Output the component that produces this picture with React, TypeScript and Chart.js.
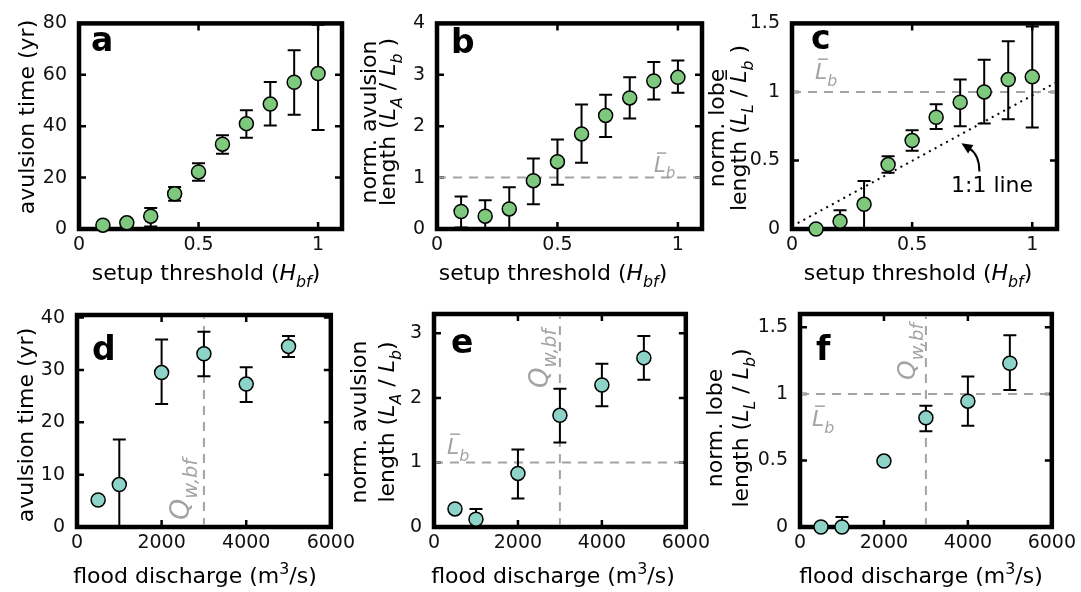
import React, { useEffect, useRef } from "react";
import { Chart, registerables } from "chart.js";
Chart.register(...registerables);

const FONT = '"DejaVu Sans", "Liberation Sans", sans-serif';
const GREEN = "#7fc97f";
const TEAL = "#8dd3c7";
const GREY = "#a3a3a3";

// ---------- data: setup-threshold experiments (top row)
const setupThreshold = [0.1, 0.2, 0.3, 0.4, 0.5, 0.6, 0.7, 0.8, 0.9, 1.0];
const avulsionTime = [1.5, 2.4, 5.0, 13.7, 22.2, 33.0, 41.0, 48.6, 57.1, 60.5];
const avulsionTimeLow = [null, null, 1.0, 11.0, 18.8, 29.3, 35.5, 40.3, 44.5, 38.5];
const avulsionTimeHigh = [null, null, 8.2, 16.3, 25.6, 36.5, 46.2, 57.2, 69.6, 79.5];
const avulsionLength = [0.34, 0.25, 0.39, 0.94, 1.31, 1.85, 2.21, 2.55, 2.88, 2.95];
const avulsionLengthLow = [0.03, 0, 0, 0.48, 0.86, 1.29, 1.79, 2.15, 2.52, 2.65];
const avulsionLengthHigh = [0.63, 0.56, 0.81, 1.37, 1.74, 2.42, 2.61, 2.95, 3.25, 3.28];
const lobeLength = [0.0, 0.056, 0.18, 0.47, 0.645, 0.815, 0.925, 1.0, 1.09, 1.11];
const lobeLengthLow = [null, 0, 0, 0.41, 0.57, 0.73, 0.75, 0.77, 0.8, 0.74];
const lobeLengthHigh = [null, 0.136, 0.35, 0.53, 0.72, 0.91, 1.09, 1.235, 1.37, 1.477];

// ---------- data: flood-discharge experiments (bottom row)
const floodDischarge = [500, 1000, 2000, 3000, 4000, 5000];
const qAvulsionTime = [5.15, 8.1, 29.5, 33.1, 27.3, 34.5];
const qAvulsionTimeLow = [null, 0, 23.5, 28.8, 23.9, 32.5];
const qAvulsionTimeHigh = [null, 16.7, 35.8, 37.3, 30.5, 36.5];
const qAvulsionLength = [0.28, 0.12, 0.83, 1.73, 2.2, 2.62];
const qAvulsionLengthLow = [null, 0, 0.44, 1.31, 1.87, 2.28];
const qAvulsionLengthHigh = [null, 0.28, 1.2, 2.14, 2.53, 2.96];
const qLobeLength = [0, 0, 0.495, 0.82, 0.945, 1.23];
const qLobeLengthLow = [null, 0, null, 0.72, 0.76, 1.03];
const qLobeLengthHigh = [null, 0.075, null, 0.91, 1.13, 1.44];

// ---------- reference values
const meanLobeLength = 1;
const bankfullDischarge = 3000;
const oneToOneX = [0, 1.1];
const oneToOneY = [0.02, 1.07];
const arrowTail = [0.78, 0.42];
const arrowTip = [0.705, 0.625];

// ---------- ticks
const thresholdTicks = [0, 0.5, 1];
const dischargeTicks = [0, 2000, 4000, 6000];
const timeTicksA = [0, 20, 40, 60, 80];
const lengthTicksB = [0, 1, 2, 3, 4];
const lobeTicks = [0, 0.5, 1, 1.5];
const timeTicksD = [0, 10, 20, 30, 40];
const lengthTicksE = [0, 1, 2, 3];

type Seg = { t: string; it?: boolean; sub?: boolean; sup?: boolean; bar?: boolean; bold?: boolean };

function segSize(s: Seg, size: number) {
  return s.sub || s.sup ? size * 0.72 : size;
}
function setSegFont(ctx: CanvasRenderingContext2D, s: Seg, size: number) {
  ctx.font = `${s.it ? "italic " : ""}${s.bold ? "bold " : ""}${segSize(s, size)}px ${FONT}`;
}
function richWidth(ctx: CanvasRenderingContext2D, segs: Seg[], size: number) {
  let w = 0;
  for (const s of segs) {
    setSegFont(ctx, s, size);
    w += ctx.measureText(s.t).width;
  }
  return w;
}
function drawRich(
  ctx: CanvasRenderingContext2D,
  segs: Seg[],
  x: number,
  y: number,
  size: number,
  color: string,
  align: "left" | "center",
  angle = 0
) {
  ctx.save();
  ctx.translate(x, y);
  if (angle) ctx.rotate(angle);
  ctx.fillStyle = color;
  ctx.strokeStyle = color;
  ctx.textAlign = "left";
  ctx.textBaseline = "alphabetic";
  let cx = align === "center" ? -richWidth(ctx, segs, size) / 2 : 0;
  for (const s of segs) {
    setSegFont(ctx, s, size);
    const dy = s.sub ? size * 0.3 : s.sup ? -size * 0.42 : 0;
    ctx.fillText(s.t, cx, dy);
    const w = ctx.measureText(s.t).width;
    if (s.bar) {
      ctx.lineWidth = 1.5;
      ctx.beginPath();
      const yb = dy - size * 0.9;
      ctx.moveTo(cx + w * 0.25, yb);
      ctx.lineTo(cx + w * 1.05, yb);
      ctx.stroke();
    }
    cx += w;
  }
  ctx.restore();
}

const L = (sub: string, bar = false): Seg[] => [
  { t: "L", it: true, bar },
  { t: sub, it: true, sub: true },
];
const LBAR: Seg[] = L("b", true);
const QLABEL: Seg[] = [
  { t: "Q", it: true },
  { t: "w,bf", it: true, sub: true },
];
const X_TOP: Seg[] = [{ t: "setup threshold (" }, { t: "H", it: true }, { t: "bf", it: true, sub: true }, { t: ")" }];
const X_BOT: Seg[] = [{ t: "flood discharge (m" }, { t: "3", sup: true }, { t: "/s)" }];

type Extra = { kind: "text" | "textV"; segs: Seg[]; at: [number, number]; size: number; color: string };

interface PanelSpec {
  left: number;
  top: number;
  width: number;
  height: number;
  plot: [number, number, number, number];
  xMin: number;
  xMax: number;
  yMin: number;
  yMax: number;
  xTicks: number[];
  yTicks: number[];
  xs: number[];
  ys: number[];
  lo: (number | null)[];
  hi: (number | null)[];
  color: string;
  letter: string;
  letterAt: [number, number];
  xTitle: Seg[];
  xTitleAt: [number, number];
  yTitle: Seg[][];
  yTitleX: number[];
  yTitleCy: number;
  hRef?: number;
  vRef?: number;
  oneToOne?: boolean;
  arrow?: boolean;
  extras: Extra[];
}

const specs: PanelSpec[] = [
  {
    left: 0, top: 0, width: 360, height: 290, plot: [79, 17, 342, 229],
    xMin: 0, xMax: 1.1, yMin: 0, yMax: 80, xTicks: thresholdTicks, yTicks: timeTicksA,
    xs: setupThreshold, ys: avulsionTime, lo: avulsionTimeLow, hi: avulsionTimeHigh, color: GREEN,
    letter: "a", letterAt: [91, 51], xTitle: X_TOP, xTitleAt: [206, 280],
    yTitle: [[{ t: "avulsion time (yr)" }]], yTitleX: [34], yTitleCy: 117,
    extras: [],
  },
  {
    left: 355, top: 0, width: 360, height: 290, plot: [437, 17, 702, 229],
    xMin: 0, xMax: 1.1, yMin: 0, yMax: 4, xTicks: thresholdTicks, yTicks: lengthTicksB,
    xs: setupThreshold, ys: avulsionLength, lo: avulsionLengthLow, hi: avulsionLengthHigh, color: GREEN,
    letter: "b", letterAt: [451, 53], xTitle: X_TOP, xTitleAt: [553, 280],
    yTitle: [[{ t: "norm. avulsion" }], [{ t: "length (" }, ...L("A"), { t: " / " }, ...L("b"), { t: " )" }]],
    yTitleX: [376, 395], yTitleCy: 122, hRef: meanLobeLength,
    extras: [{ kind: "text", segs: LBAR, at: [654, 172], size: 21, color: GREY }],
  },
  {
    left: 700, top: 0, width: 381, height: 290, plot: [792, 17, 1057, 229],
    xMin: 0, xMax: 1.103, yMin: 0, yMax: 1.5, xTicks: thresholdTicks, yTicks: lobeTicks,
    xs: setupThreshold, ys: lobeLength, lo: lobeLengthLow, hi: lobeLengthHigh, color: GREEN,
    letter: "c", letterAt: [811, 49], xTitle: X_TOP, xTitleAt: [918, 280],
    yTitle: [[{ t: "norm. lobe" }], [{ t: "length (" }, ...L("L"), { t: " / " }, ...L("b", true), { t: " )" }]],
    yTitleX: [724, 746], yTitleCy: 128, hRef: meanLobeLength, oneToOne: true, arrow: true,
    extras: [
      { kind: "text", segs: LBAR, at: [815, 79], size: 22, color: GREY },
      { kind: "text", segs: [{ t: "1:1 line" }], at: [951, 192], size: 22, color: "#000" },
    ],
  },
  {
    left: 0, top: 290, width: 360, height: 302, plot: [77, 315, 332, 527],
    xMin: 0, xMax: 6000, yMin: 0, yMax: 40.5, xTicks: dischargeTicks, yTicks: timeTicksD,
    xs: floodDischarge, ys: qAvulsionTime, lo: qAvulsionTimeLow, hi: qAvulsionTimeHigh, color: TEAL,
    letter: "d", letterAt: [92, 360], xTitle: X_BOT, xTitleAt: [195, 583],
    yTitle: [[{ t: "avulsion time (yr)" }]], yTitleX: [33], yTitleCy: 425, vRef: bankfullDischarge,
    extras: [{ kind: "textV", segs: QLABEL, at: [189, 520], size: 27, color: GREY }],
  },
  {
    left: 340, top: 290, width: 375, height: 302, plot: [434, 314, 688, 527],
    xMin: 0, xMax: 6000, yMin: 0, yMax: 3.3, xTicks: dischargeTicks, yTicks: lengthTicksE,
    xs: floodDischarge, ys: qAvulsionLength, lo: qAvulsionLengthLow, hi: qAvulsionLengthHigh, color: TEAL,
    letter: "e", letterAt: [451, 353], xTitle: X_BOT, xTitleAt: [553, 583],
    yTitle: [[{ t: "norm. avulsion" }], [{ t: "length (" }, ...L("A"), { t: " / " }, ...L("b"), { t: ")" }]],
    yTitleX: [366, 394], yTitleCy: 422, hRef: meanLobeLength, vRef: bankfullDischarge,
    extras: [
      { kind: "textV", segs: QLABEL, at: [548, 388], size: 26, color: GREY },
      { kind: "text", segs: LBAR, at: [447, 454], size: 22, color: GREY },
    ],
  },
  {
    left: 695, top: 290, width: 386, height: 302, plot: [800, 314, 1055, 527],
    xMin: 0, xMax: 6000, yMin: 0, yMax: 1.6, xTicks: dischargeTicks, yTicks: lobeTicks,
    xs: floodDischarge, ys: qLobeLength, lo: qLobeLengthLow, hi: qLobeLengthHigh, color: TEAL,
    letter: "f", letterAt: [816, 360], xTitle: X_BOT, xTitleAt: [921, 583],
    yTitle: [[{ t: "norm. lobe" }], [{ t: "length (" }, ...L("L"), { t: " / " }, ...L("b"), { t: ")" }]],
    yTitleX: [722, 748], yTitleCy: 428, hRef: meanLobeLength, vRef: bankfullDischarge,
    extras: [
      { kind: "textV", segs: QLABEL, at: [915, 380], size: 25, color: GREY },
      { kind: "text", segs: LBAR, at: [812, 426], size: 22, color: GREY },
    ],
  },
];

function makePlugin(spec: PanelSpec) {
  const ox = spec.left;
  const oy = spec.top;
  return {
    id: "panelDeco",
    beforeDatasetsDraw(chart: any) {
      const { ctx, chartArea: a, scales } = chart;
      ctx.save();
      ctx.strokeStyle = "#000";
      ctx.lineWidth = 2.5;
      ctx.lineCap = "butt";
      const tl = 7;
      for (const v of spec.xTicks) {
        const p = scales.x.getPixelForValue(v);
        if (p <= a.left + 2 || p >= a.right - 2) continue;
        ctx.beginPath();
        ctx.moveTo(p, a.bottom);
        ctx.lineTo(p, a.bottom - tl);
        ctx.moveTo(p, a.top);
        ctx.lineTo(p, a.top + tl);
        ctx.stroke();
      }
      for (const v of spec.yTicks) {
        const p = scales.y.getPixelForValue(v);
        if (p <= a.top + 2 || p >= a.bottom - 2) continue;
        ctx.beginPath();
        ctx.moveTo(a.left, p);
        ctx.lineTo(a.left + tl, p);
        ctx.moveTo(a.right, p);
        ctx.lineTo(a.right - tl, p);
        ctx.stroke();
      }
      ctx.lineWidth = 4.5;
      ctx.lineJoin = "miter";
      ctx.strokeRect(a.left, a.top, a.right - a.left, a.bottom - a.top);
      ctx.restore();
    },
    beforeDatasetDraw(chart: any, args: any) {
      if (args.index !== 0) return;
      const { ctx, chartArea: a, scales } = chart;
      ctx.save();
      ctx.beginPath();
      ctx.rect(a.left - 2, a.top - 2, a.right - a.left + 4, a.bottom - a.top + 4);
      ctx.clip();
      ctx.strokeStyle = "#000";
      ctx.lineWidth = 2;
      const cap = 6.5;
      spec.xs.forEach((xv, i) => {
        const lo = spec.lo[i];
        const hi = spec.hi[i];
        if (lo == null || hi == null) return;
        const px = scales.x.getPixelForValue(xv);
        const pl = scales.y.getPixelForValue(lo);
        const ph = scales.y.getPixelForValue(hi);
        ctx.beginPath();
        ctx.moveTo(px, pl);
        ctx.lineTo(px, ph);
        ctx.moveTo(px - cap, pl);
        ctx.lineTo(px + cap, pl);
        ctx.moveTo(px - cap, ph);
        ctx.lineTo(px + cap, ph);
        ctx.stroke();
      });
      ctx.restore();
    },
    afterDraw(chart: any) {
      const { ctx, scales } = chart;
      drawRich(ctx, [{ t: spec.letter, bold: true }], spec.letterAt[0] - ox, spec.letterAt[1] - oy, 33, "#000", "left");
      drawRich(ctx, spec.xTitle, spec.xTitleAt[0] - ox, spec.xTitleAt[1] - oy, 22, "#000", "center");
      spec.yTitle.forEach((line, i) => {
        drawRich(ctx, line, spec.yTitleX[i] - ox, spec.yTitleCy - oy, 22, "#000", "center", -Math.PI / 2);
      });
      for (const e of spec.extras) {
        if (e.kind === "text") drawRich(ctx, e.segs, e.at[0] - ox, e.at[1] - oy, e.size, e.color, "left");
        else drawRich(ctx, e.segs, e.at[0] - ox, e.at[1] - oy, e.size, e.color, "left", -Math.PI / 2);
      }
      if (spec.arrow) {
        const tx = scales.x.getPixelForValue(arrowTail[0]);
        const ty = scales.y.getPixelForValue(arrowTail[1]);
        const hx = scales.x.getPixelForValue(arrowTip[0]);
        const hy = scales.y.getPixelForValue(arrowTip[1]);
        const cx = tx;
        const cy = hy + 0.4 * (ty - hy);
        ctx.save();
        ctx.strokeStyle = "#000";
        ctx.fillStyle = "#000";
        ctx.lineWidth = 2;
        const dx = hx - cx;
        const dy = hy - cy;
        const len = Math.hypot(dx, dy);
        const ux = dx / len;
        const uy = dy / len;
        const headL = 11;
        const headW = 5;
        const bx = hx - ux * headL;
        const by = hy - uy * headL;
        ctx.beginPath();
        ctx.moveTo(tx, ty);
        ctx.quadraticCurveTo(cx, cy, bx + ux * 2, by + uy * 2);
        ctx.stroke();
        ctx.beginPath();
        ctx.moveTo(hx, hy);
        ctx.lineTo(bx - uy * headW, by + ux * headW);
        ctx.lineTo(bx + uy * headW, by - ux * headW);
        ctx.closePath();
        ctx.fill();
        ctx.restore();
      }
    },
  };
}

function makeConfig(spec: PanelSpec): any {
  const yAxisW = spec.plot[0] - spec.left;
  const padTop = spec.plot[1] - spec.top;
  const padRight = spec.left + spec.width - spec.plot[2];
  const xAxisH = spec.top + spec.height - spec.plot[3];
  const datasets: any[] = [
    {
      type: "scatter",
      data: spec.xs.map((x, i) => ({ x, y: spec.ys[i] })),
      backgroundColor: spec.color,
      borderColor: "#000",
      pointRadius: 7,
      pointHoverRadius: 7,
      borderWidth: 1.5,
      pointBorderWidth: 1.5,
      clip: false,
      order: 0,
    },
  ];
  if (spec.hRef != null) {
    datasets.push({
      type: "line",
      data: [
        { x: spec.xMin, y: spec.hRef },
        { x: spec.xMax, y: spec.hRef },
      ],
      borderColor: GREY,
      borderWidth: 2,
      borderDash: [9, 7],
      pointRadius: 0,
      fill: false,
      clip: -2,
      order: 1,
    });
  }
  if (spec.vRef != null) {
    datasets.push({
      type: "line",
      data: [
        { x: spec.vRef, y: spec.yMin },
        { x: spec.vRef, y: spec.yMax },
      ],
      borderColor: GREY,
      borderWidth: 2,
      borderDash: [9, 7],
      pointRadius: 0,
      fill: false,
      clip: -2,
      order: 1,
    });
  }
  if (spec.oneToOne) {
    datasets.push({
      type: "line",
      data: oneToOneX.map((x, i) => ({ x, y: oneToOneY[i] })),
      borderColor: "#000",
      borderWidth: 2,
      borderDash: [2, 4.5],
      pointRadius: 0,
      fill: false,
      clip: -2,
      order: 2,
    });
  }
  const tickFont = { family: FONT, size: 19 };
  return {
    type: "scatter",
    data: { datasets },
    options: {
      animation: false,
      responsive: false,
      devicePixelRatio: 1,
      events: [],
      layout: { padding: { left: 0, top: padTop, right: padRight, bottom: 0 } },
      plugins: { legend: { display: false }, tooltip: { enabled: false } },
      scales: {
        x: {
          type: "linear",
          min: spec.xMin,
          max: spec.xMax,
          afterBuildTicks: (s: any) => {
            s.ticks = spec.xTicks.map((v) => ({ value: v }));
          },
          afterFit: (s: any) => {
            s.height = xAxisH;
          },
          ticks: {
            font: tickFont,
            color: "#111",
            padding: 5,
            autoSkip: false,
            maxRotation: 0,
            minRotation: 0,
            callback: (v: any) => String(v),
          },
          grid: { display: false, drawTicks: false },
          border: { display: false },
        },
        y: {
          type: "linear",
          min: spec.yMin,
          max: spec.yMax,
          afterBuildTicks: (s: any) => {
            s.ticks = spec.yTicks.map((v) => ({ value: v }));
          },
          afterFit: (s: any) => {
            s.width = yAxisW;
          },
          ticks: {
            font: tickFont,
            color: "#111",
            padding: 12,
            autoSkip: false,
            callback: (v: any) => String(v),
          },
          grid: { display: false, drawTicks: false },
          border: { display: false },
        },
      },
    },
    plugins: [makePlugin(spec)],
  };
}

function Panel({ spec }: { spec: PanelSpec }) {
  const ref = useRef<HTMLCanvasElement | null>(null);
  useEffect(() => {
    if (!ref.current) return;
    const chart = new Chart(ref.current, makeConfig(spec));
    return () => chart.destroy();
  }, [spec]);
  return (
    <canvas
      ref={ref}
      width={spec.width}
      height={spec.height}
      style={{ position: "absolute", left: spec.left, top: spec.top, width: spec.width, height: spec.height }}
    />
  );
}

export default function App() {
  return (
    <div style={{ position: "absolute", left: 0, top: 0, width: 1081, height: 592, background: "#fff", overflow: "hidden" }}>
      {specs.map((s, i) => (
        <Panel key={i} spec={s} />
      ))}
    </div>
  );
}
